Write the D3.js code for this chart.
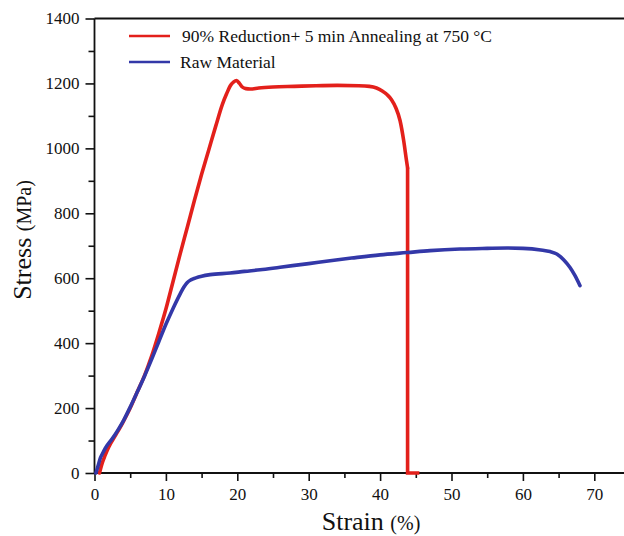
<!DOCTYPE html>
<html>
<head>
<meta charset="utf-8">
<script src="https://cdn.jsdelivr.net/npm/d3@7/dist/d3.min.js"></script>
<style>
html,body{margin:0;padding:0;background:#fff;}
svg{display:block;}
text{font-family:"Liberation Serif","Times New Roman",serif;fill:#111;}
</style>
</head>
<body>
<svg id="chart" width="624" height="536"></svg>
<script>
// ---- data ----
const seriesNames = ["90% Reduction+ 5 min Annealing at 750 \u00B0C", "Raw Material"];
const redStrain = [0.7,1.0,1.5,2.0,3.0,4.0,5.0,6.0,7.0,8.0,9.0,10.0,11.0,12.0,13.0,14.0,15.0,16.0,17.0,17.9,18.5,19.0,19.5,19.9,20.3,20.7,21.2,21.8,23,25,28,31,34,37,38.5,39.5,40.3,41.0,41.6,42.2,42.8,43.3,43.7,43.85,43.85,45.5];
const redStress = [0,25,55,80,118,157,200,250,300,360,430,505,590,675,757,840,920,995,1070,1135,1168,1192,1205,1209,1200,1189,1184,1183,1186,1189,1191,1193,1194,1193,1191,1186,1177,1165,1150,1125,1085,1024,962,940,0,0];
const blueStrain = [0.2,0.5,0.84,1.2,1.5,2.5,3.3,4.1,5.0,6.0,7.0,8.0,9.0,10.0,11.0,12.0,12.5,13.0,13.5,14.2,15.0,16.2,19,21,23.2,26,30,33,36,40,43.8,47,51.2,55,57.8,60,62.5,63.8,64.8,65.7,66.6,67.3,68.0];
const blueStress = [0,22,47,63,76,106,133,163,203,250,298,350,404,458,507,552,572,587,595,601,606,611,616,621,626,634,645,654,662,672,679,685,690,692,693,692,687,682,674,657,633,608,577];
const xTicks = [0,10,20,30,40,50,60,70];
const xMinor = [5,15,25,35,45,55,65];
const yTicks = [0,200,400,600,800,1000,1200,1400];
const yMinor = [100,300,500,700,900,1100,1300];
const colors = ["#e3201b", "#3338a8"];

// ---- drawing ----
const svg = d3.select("#chart");
const x = d3.scaleLinear().domain([0,75]).range([94.5, 630]);
const y = d3.scaleLinear().domain([0,1400]).range([473, 18.5]);

// frame top
svg.append("line").attr("x1",x(0)).attr("x2",624).attr("y1",y(1400)).attr("y2",y(1400))
  .attr("stroke","#111").attr("stroke-width",1.8);

// axes
const xAxis = svg.append("g").attr("transform",`translate(0,${y(0)})`)
  .call(d3.axisBottom(x).tickValues(xTicks).tickSize(8).tickPadding(7).tickFormat(d3.format("d")));
svg.append("g").attr("transform",`translate(0,${y(0)})`)
  .call(d3.axisBottom(x).tickValues(xMinor).tickSize(5).tickFormat(""))
  .call(g=>g.select(".domain").remove());
const yAxis = svg.append("g").attr("transform",`translate(${x(0)},0)`)
  .call(d3.axisLeft(y).tickValues(yTicks).tickSize(9).tickPadding(6).tickFormat(d3.format("d")));
svg.append("g").attr("transform",`translate(${x(0)},0)`)
  .call(d3.axisLeft(y).tickValues(yMinor).tickSize(6).tickFormat(""))
  .call(g=>g.select(".domain").remove());
svg.selectAll(".domain").attr("stroke","#111").attr("stroke-width",1.8);
svg.selectAll(".tick line").attr("stroke","#111").attr("stroke-width",1.6);
svg.selectAll(".tick text").attr("font-family","Liberation Serif").attr("font-size",17).attr("fill","#111");
xAxis.select(".domain").attr("d",`M${x(0)},0H624`);
yAxis.select(".domain").attr("d",`M0,${y(1400)}V${y(0)}`);

// lines
const smooth = d3.line().x(d=>x(d[0])).y(d=>y(d[1])).curve(d3.curveMonotoneX);
const straight = d3.line().x(d=>x(d[0])).y(d=>y(d[1]));
const redData = redStrain.map((s,i)=>[s, redStress[i]]);
const blueData = blueStrain.map((s,i)=>[s, blueStress[i]]);
const dropIdx = redStrain.findIndex((s,i)=>i>0 && s===redStrain[i-1]);
const redSmooth = redData.slice(0, dropIdx);
const redDrop = redData.slice(dropIdx-1);
svg.append("path").datum(redSmooth).attr("d",smooth).attr("fill","none")
  .attr("stroke",colors[0]).attr("stroke-width",3.6).attr("stroke-linejoin","round").attr("stroke-linecap","round");
svg.append("path").datum(redDrop).attr("d",straight).attr("fill","none")
  .attr("stroke",colors[0]).attr("stroke-width",3.6).attr("stroke-linejoin","miter").attr("stroke-linecap","butt");
svg.append("path").datum(blueData).attr("d",smooth).attr("fill","none")
  .attr("stroke",colors[1]).attr("stroke-width",3.6).attr("stroke-linejoin","round").attr("stroke-linecap","round");

// legend
const lg = [{y:36, c:colors[0], t:seriesNames[0], tx:182},{y:62, c:colors[1], t:seriesNames[1], tx:180}];
lg.forEach(d=>{
  svg.append("line").attr("x1",129).attr("x2",170).attr("y1",d.y).attr("y2",d.y)
    .attr("stroke",d.c).attr("stroke-width",2.6);
  svg.append("text").attr("x",d.tx).attr("y",d.y+6).attr("font-size",17.5).text(d.t);
});

// axis titles
const xt = svg.append("text").attr("x",371).attr("y",530).attr("text-anchor","middle");
xt.append("tspan").attr("font-size",26).text("Strain ");
xt.append("tspan").attr("font-size",20).text("(%)");
const yt = svg.append("text").attr("transform","translate(31,240) rotate(-90)").attr("text-anchor","middle");
yt.append("tspan").attr("font-size",26).text("Stress ");
yt.append("tspan").attr("font-size",20).text("(MPa)");
</script>
</body>
</html>
